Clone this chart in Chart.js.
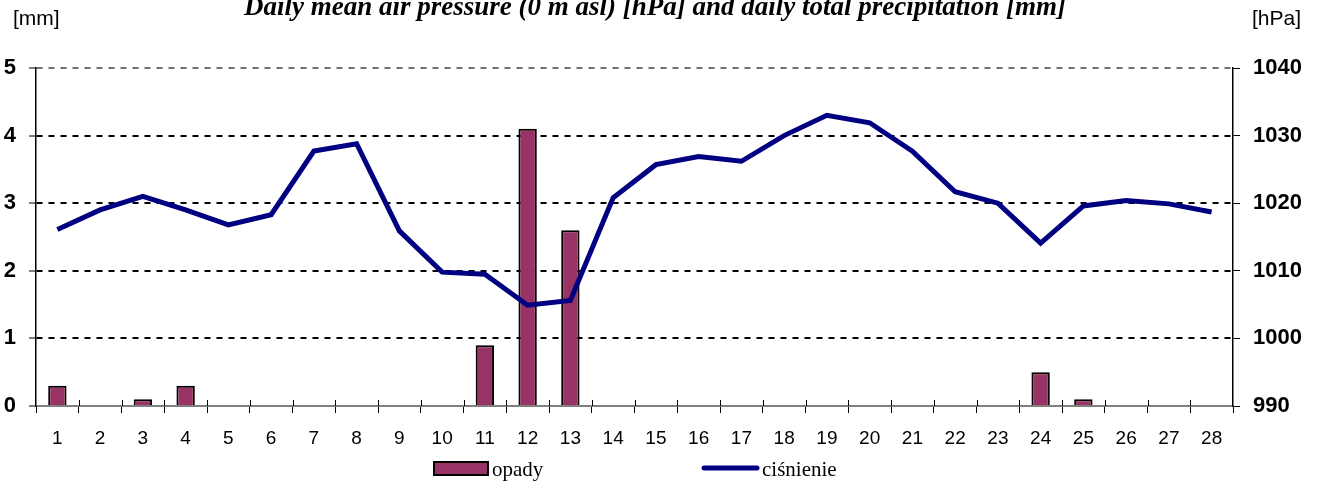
<!DOCTYPE html>
<html>
<head>
<meta charset="utf-8">
<script src="https://cdn.jsdelivr.net/npm/chart.js@4.4.1/dist/chart.umd.min.js"></script>
<style>
html,body{margin:0;padding:0;background:#fff;}
#wrap{width:1324px;height:483px;position:relative;}
</style>
</head>
<body>
<div id="wrap"><canvas id="c" width="1324" height="483"></canvas></div>
<script>
const days = ['1','2','3','4','5','6','7','8','9','10','11','12','13','14','15','16','17','18','19','20','21','22','23','24','25','26','27','28'];
const precipitation = [0.3,0,0.1,0.3,0,0,0,0,0,0,0.9,4.1,2.6,0,0,0,0,0,0,0,0,0,0,0.5,0.1,0,0,0];
const pressure = [1016.1,1019.0,1021.0,1019.0,1016.8,1018.3,1027.7,1028.8,1015.9,1009.8,1009.5,1004.9,1005.6,1020.8,1025.7,1026.9,1026.2,1030.0,1033.0,1031.9,1027.7,1021.7,1020.0,1014.1,1019.6,1020.4,1019.9,1018.7];
const mmTicks = [0,1,2,3,4,5];
const hpaTicks = [990,1000,1010,1020,1030,1040];
const titleText = 'Daily mean air pressure (0 m asl) [hPa] and daily total precipitation [mm]';
const leftUnit = '[mm]';
const rightUnit = '[hPa]';
const seriesNames = ['opady','ciśnienie'];

const BAR_COLOR = '#993366';
const LINE_COLOR = '#000080';

const decor = {
  id: 'decor',
  afterDraw(chart) {
    const ctx = chart.ctx;
    const xs = chart.scales.x;
    ctx.save();
    ctx.strokeStyle = '#000';
    ctx.lineWidth = 1;
    const n = days.length;
    for (let i = 1; i < n; i++) {
      const px = Math.round((xs.getPixelForValue(i - 1) + xs.getPixelForValue(i)) / 2) + 0.5;
      ctx.beginPath();
      ctx.moveTo(px, xs.top - 6);
      ctx.lineTo(px, xs.top);
      ctx.stroke();
    }
    ctx.fillStyle = '#000';
    ctx.font = 'italic bold 27px "Liberation Serif", "Times New Roman", serif';
    ctx.textAlign = 'center';
    ctx.textBaseline = 'alphabetic';
    ctx.fillText(titleText, 655, 15);
    ctx.font = '21px "Liberation Sans", Arial, sans-serif';
    ctx.textAlign = 'left';
    ctx.fillText(leftUnit, 13, 25);
    ctx.fillText(rightUnit, 1252, 25);
    ctx.fillStyle = BAR_COLOR;
    ctx.fillRect(434, 462, 54, 13);
    ctx.strokeStyle = '#000';
    ctx.lineWidth = 2;
    ctx.strokeRect(434, 462, 54, 13);
    ctx.fillStyle = '#000';
    ctx.font = '21px "Liberation Serif", "Times New Roman", serif';
    ctx.fillText(seriesNames[0], 492, 476);
    ctx.strokeStyle = LINE_COLOR;
    ctx.lineWidth = 5;
    ctx.lineCap = 'round';
    ctx.beginPath();
    ctx.moveTo(704, 468);
    ctx.lineTo(757, 468);
    ctx.stroke();
    ctx.fillText(seriesNames[1], 762, 476);
    ctx.restore();
  }
};

const tickFont = { family: '"Liberation Sans", Arial, sans-serif', size: 22, weight: 'bold' };

new Chart(document.getElementById('c'), {
  type: 'bar',
  data: {
    labels: days,
    datasets: [
      {
        type: 'bar',
        label: seriesNames[0],
        data: precipitation,
        yAxisID: 'y',
        backgroundColor: BAR_COLOR,
        borderColor: '#000',
        borderWidth: 2,
        barPercentage: 0.86,
        categoryPercentage: 0.5,
        order: 1
      },
      {
        type: 'line',
        label: seriesNames[1],
        data: pressure,
        yAxisID: 'y1',
        borderColor: LINE_COLOR,
        borderWidth: 5,
        pointRadius: 0,
        tension: 0,
        fill: false,
        order: 0
      }
    ]
  },
  options: {
    responsive: false,
    animation: false,
    devicePixelRatio: 1,
    layout: { padding: { top: 68, left: 0, right: 0, bottom: 0 } },
    plugins: { legend: { display: false }, tooltip: { enabled: false }, title: { display: false } },
    scales: {
      x: {
        type: 'category',
        offset: true,
        afterFit(s) { s.height = 77; },
        grid: { offset: true, drawOnChartArea: false, tickLength: 7, color: '#000', lineWidth: 1 },
        border: { color: '#808080', width: 2 },
        ticks: { color: '#000', font: { family: '"Liberation Sans", Arial, sans-serif', size: 19 }, padding: 14, maxRotation: 0, autoSkip: false }
      },
      y: {
        position: 'left',
        min: 0, max: 5,
        afterFit(s) { s.width = 36; },
        afterBuildTicks(s) { s.ticks = mmTicks.map(v => ({ value: v })); },
        grid: {
          color: c => c.tick && c.tick.value === 5 ? '#707070' : (c.tick && c.tick.value === 0 ? 'rgba(0,0,0,0)' : '#000'),
          lineWidth: 2,
          tickBorderDash: [],
          tickColor: '#000',
          tickWidth: 1,
          tickLength: 7
        },
        border: { color: '#000', width: 1.5, dash: [6, 6] },
        ticks: { color: '#000', font: tickFont, padding: 13, callback: v => String(v) }
      },
      y1: {
        position: 'right',
        min: 990, max: 1040,
        afterFit(s) { s.width = 91; },
        afterBuildTicks(s) { s.ticks = hpaTicks.map(v => ({ value: v })); },
        grid: { drawOnChartArea: false, color: '#000', tickLength: 7, lineWidth: 1 },
        border: { color: '#000', width: 1.5 },
        ticks: { color: '#000', font: tickFont, padding: 13, callback: v => String(v) }
      }
    }
  },
  plugins: [decor]
});
</script>
</body>
</html>
